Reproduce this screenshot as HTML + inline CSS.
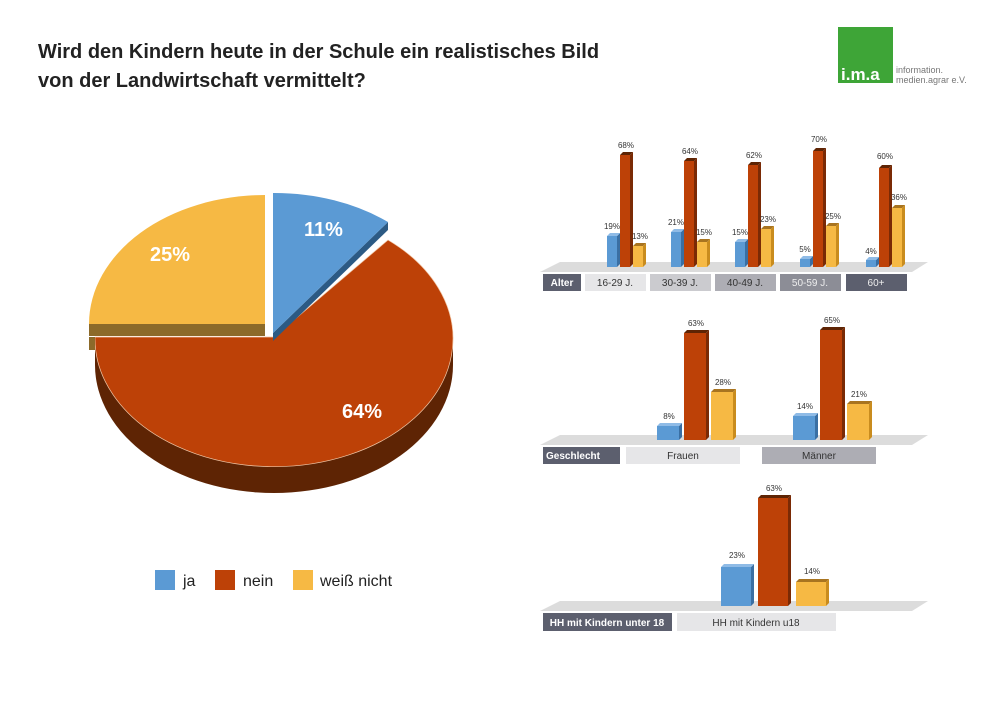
<!DOCTYPE html>
<html><head><meta charset="utf-8"><style>
body{margin:0;background:#fff;}
svg{display:block;font-family:"Liberation Sans",sans-serif;}
</style></head><body>
<svg width="1000" height="707" viewBox="0 0 1000 707">
<rect width="1000" height="707" fill="#fff"/>
<text x="38" y="58" font-size="20" font-weight="bold" fill="#222">Wird den Kindern heute in der Schule ein realistisches Bild</text>
<text x="38" y="87" font-size="20" font-weight="bold" fill="#222">von der Landwirtschaft vermittelt?</text>
<!-- logo -->
<rect x="838" y="27" width="55" height="56" fill="#3ea537"/>
<text x="841" y="80" font-size="17" font-weight="bold" fill="#fff">i.m.a</text>
<text x="896" y="73" font-size="9" fill="#777">information.</text>
<text x="896" y="83" font-size="9" fill="#777">medien.agrar e.V.</text>
<!-- pie -->
<path d="M453,337 A179,128 0 0 1 95,337 L95,365 A179,128 0 0 0 453,365 Z" fill="#5e2404"/>
<path d="M453,337 A179,128 0 0 1 95,337" fill="none" stroke="#f2d0b0" stroke-width="0.6"/>
<path d="M274,337 L388,240 A179,128 0 1 1 95,337 Z" fill="#bd4107" stroke="#f2c8a8" stroke-width="0.7"/>
<polygon points="89,324 265,324 265,336 89,336 89,350 95,350 95,337 89,337" fill="#8c6a2a"/>
<rect x="89" y="324" width="176" height="12" fill="#8c6a2a"/>
<path d="M265,324 L89,324 A176,129 0 0 1 265,195 Z" fill="#f6b944"/>
<polygon points="273,333 388,222 388,230 273,341" fill="#2c5a84"/>
<path d="M273,333 L273,193 A179,128 0 0 1 388,222 Z" fill="#5b9ad4"/>
<text x="304" y="236" font-size="20" font-weight="bold" fill="#fff">11%</text>
<text x="150" y="261" font-size="20" font-weight="bold" fill="#fff">25%</text>
<text x="342" y="418" font-size="20" font-weight="bold" fill="#fff">64%</text>
<!-- legend -->
<rect x="155" y="570" width="20" height="20" fill="#5b9ad4"/>
<text x="183" y="586" font-size="16" fill="#222">ja</text>
<rect x="215" y="570" width="20" height="20" fill="#bd4107"/>
<text x="243" y="586" font-size="16" fill="#222">nein</text>
<rect x="293" y="570" width="20" height="20" fill="#f6b944"/>
<text x="320" y="586" font-size="16" fill="#222">weiß nicht</text>

<!-- Alter -->
<polygon points="540,272 560,262 928,262 912,272" fill="#dcdcdc"/>
<g font-size="8" fill="#333" text-anchor="middle">
<!-- G1 -->
<rect x="607" y="236" width="10" height="31" fill="#5b9ad4"/><polygon points="617,236 620,233 620,264 617,267" fill="#3a6fa3"/><polygon points="607,236 610,233 620,233 617,236" fill="#8fbbe6"/>
<rect x="620" y="155" width="10" height="112" fill="#bd4107"/><polygon points="630,155 633,152 633,264 630,267" fill="#7a2a05"/><polygon points="620,155 623,152 633,152 630,155" fill="#5e2404"/>
<rect x="633" y="246" width="10" height="21" fill="#f6b944"/><polygon points="643,246 646,243 646,264 643,267" fill="#c98c1e"/><polygon points="633,246 636,243 646,243 643,246" fill="#a87420"/>
<text x="612" y="229">19%</text><text x="626" y="148">68%</text><text x="640" y="239">13%</text>
<!-- G2 -->
<rect x="671" y="232" width="10" height="35" fill="#5b9ad4"/><polygon points="681,232 684,229 684,264 681,267" fill="#3a6fa3"/><polygon points="671,232 674,229 684,229 681,232" fill="#8fbbe6"/>
<rect x="684" y="161" width="10" height="106" fill="#bd4107"/><polygon points="694,161 697,158 697,264 694,267" fill="#7a2a05"/><polygon points="684,161 687,158 697,158 694,161" fill="#5e2404"/>
<rect x="697" y="242" width="10" height="25" fill="#f6b944"/><polygon points="707,242 710,239 710,264 707,267" fill="#c98c1e"/><polygon points="697,242 700,239 710,239 707,242" fill="#a87420"/>
<text x="676" y="225">21%</text><text x="690" y="154">64%</text><text x="704" y="235">15%</text>
<!-- G3 -->
<rect x="735" y="242" width="10" height="25" fill="#5b9ad4"/><polygon points="745,242 748,239 748,264 745,267" fill="#3a6fa3"/><polygon points="735,242 738,239 748,239 745,242" fill="#8fbbe6"/>
<rect x="748" y="165" width="10" height="102" fill="#bd4107"/><polygon points="758,165 761,162 761,264 758,267" fill="#7a2a05"/><polygon points="748,165 751,162 761,162 758,165" fill="#5e2404"/>
<rect x="761" y="229" width="10" height="38" fill="#f6b944"/><polygon points="771,229 774,226 774,264 771,267" fill="#c98c1e"/><polygon points="761,229 764,226 774,226 771,229" fill="#a87420"/>
<text x="740" y="235">15%</text><text x="754" y="158">62%</text><text x="768" y="222">23%</text>
<!-- G4 -->
<rect x="800" y="259" width="10" height="8" fill="#5b9ad4"/><polygon points="810,259 813,256 813,264 810,267" fill="#3a6fa3"/><polygon points="800,259 803,256 813,256 810,259" fill="#8fbbe6"/>
<rect x="813" y="151" width="10" height="116" fill="#bd4107"/><polygon points="823,151 826,148 826,264 823,267" fill="#7a2a05"/><polygon points="813,151 816,148 826,148 823,151" fill="#5e2404"/>
<rect x="826" y="226" width="10" height="41" fill="#f6b944"/><polygon points="836,226 839,223 839,264 836,267" fill="#c98c1e"/><polygon points="826,226 829,223 839,223 836,226" fill="#a87420"/>
<text x="805" y="252">5%</text><text x="819" y="142">70%</text><text x="833" y="219">25%</text>
<!-- G5 -->
<rect x="866" y="260" width="10" height="7" fill="#5b9ad4"/><polygon points="876,260 879,257 879,264 876,267" fill="#3a6fa3"/><polygon points="866,260 869,257 879,257 876,260" fill="#8fbbe6"/>
<rect x="879" y="168" width="10" height="99" fill="#bd4107"/><polygon points="889,168 892,165 892,264 889,267" fill="#7a2a05"/><polygon points="879,168 882,165 892,165 889,168" fill="#5e2404"/>
<rect x="892" y="208" width="10" height="59" fill="#f6b944"/><polygon points="902,208 905,205 905,264 902,267" fill="#c98c1e"/><polygon points="892,208 895,205 905,205 902,208" fill="#a87420"/>
<text x="871" y="254">4%</text><text x="885" y="159">60%</text><text x="899" y="200">36%</text>
</g>
<rect x="543" y="274" width="38" height="17" fill="#5c5f6e"/>
<rect x="585" y="274" width="61" height="17" fill="#e6e6e8"/>
<rect x="650" y="274" width="61" height="17" fill="#cbcbcf"/>
<rect x="715" y="274" width="61" height="17" fill="#adadb4"/>
<rect x="780" y="274" width="61" height="17" fill="#8c8d96"/>
<rect x="846" y="274" width="61" height="17" fill="#5c5f6e"/>
<g font-size="10" text-anchor="middle">
<text x="562" y="286" fill="#fff" font-weight="bold">Alter</text>
<text x="615" y="286" fill="#333">16-29 J.</text>
<text x="680" y="286" fill="#333">30-39 J.</text>
<text x="745" y="286" fill="#333">40-49 J.</text>
<text x="810" y="286" fill="#eee">50-59 J.</text>
<text x="876" y="286" fill="#eee">60+</text>
</g>

<!-- Geschlecht -->
<polygon points="540,445 560,435 928,435 912,445" fill="#dcdcdc"/>
<g font-size="8" fill="#333" text-anchor="middle">
<rect x="657" y="426" width="22" height="14" fill="#5b9ad4"/><polygon points="679,426 682,423 682,437 679,440" fill="#3a6fa3"/><polygon points="657,426 660,423 682,423 679,426" fill="#8fbbe6"/>
<rect x="684" y="333" width="22" height="107" fill="#bd4107"/><polygon points="706,333 709,330 709,437 706,440" fill="#7a2a05"/><polygon points="684,333 687,330 709,330 706,333" fill="#5e2404"/>
<rect x="711" y="392" width="22" height="48" fill="#f6b944"/><polygon points="733,392 736,389 736,437 733,440" fill="#c98c1e"/><polygon points="711,392 714,389 736,389 733,392" fill="#a87420"/>
<text x="669" y="419">8%</text><text x="696" y="326">63%</text><text x="723" y="385">28%</text>
<rect x="793" y="416" width="22" height="24" fill="#5b9ad4"/><polygon points="815,416 818,413 818,437 815,440" fill="#3a6fa3"/><polygon points="793,416 796,413 818,413 815,416" fill="#8fbbe6"/>
<rect x="820" y="330" width="22" height="110" fill="#bd4107"/><polygon points="842,330 845,327 845,437 842,440" fill="#7a2a05"/><polygon points="820,330 823,327 845,327 842,330" fill="#5e2404"/>
<rect x="847" y="404" width="22" height="36" fill="#f6b944"/><polygon points="869,404 872,401 872,437 869,440" fill="#c98c1e"/><polygon points="847,404 850,401 872,401 869,404" fill="#a87420"/>
<text x="805" y="409">14%</text><text x="832" y="323">65%</text><text x="859" y="397">21%</text>
</g>
<rect x="543" y="447" width="77" height="17" fill="#5c5f6e"/>
<rect x="626" y="447" width="114" height="17" fill="#e6e6e8"/>
<rect x="762" y="447" width="114" height="17" fill="#adadb4"/>
<g font-size="10" text-anchor="middle">
<text x="573" y="459" fill="#fff" font-weight="bold">Geschlecht</text>
<text x="683" y="459" fill="#333">Frauen</text>
<text x="819" y="459" fill="#333">Männer</text>
</g>

<!-- HH -->
<polygon points="540,611 560,601 928,601 912,611" fill="#dcdcdc"/>
<g font-size="8" fill="#333" text-anchor="middle">
<rect x="721" y="567" width="30" height="39" fill="#5b9ad4"/><polygon points="751,567 754,564 754,603 751,606" fill="#3a6fa3"/><polygon points="721,567 724,564 754,564 751,567" fill="#8fbbe6"/>
<rect x="758" y="498" width="30" height="108" fill="#bd4107"/><polygon points="788,498 791,495 791,603 788,606" fill="#7a2a05"/><polygon points="758,498 761,495 791,495 788,498" fill="#5e2404"/>
<rect x="796" y="582" width="30" height="24" fill="#f6b944"/><polygon points="826,582 829,579 829,603 826,606" fill="#c98c1e"/><polygon points="796,582 799,579 829,579 826,582" fill="#a87420"/>
<text x="737" y="558">23%</text><text x="774" y="491">63%</text><text x="812" y="574">14%</text>
</g>
<rect x="543" y="613" width="129" height="18" fill="#5c5f6e"/>
<rect x="677" y="613" width="159" height="18" fill="#e6e6e8"/>
<g font-size="10" text-anchor="middle">
<text x="607" y="626" fill="#fff" font-weight="bold">HH mit Kindern unter 18</text>
<text x="756" y="626" fill="#333">HH mit Kindern u18</text>
</g>
</svg>
</body></html>
